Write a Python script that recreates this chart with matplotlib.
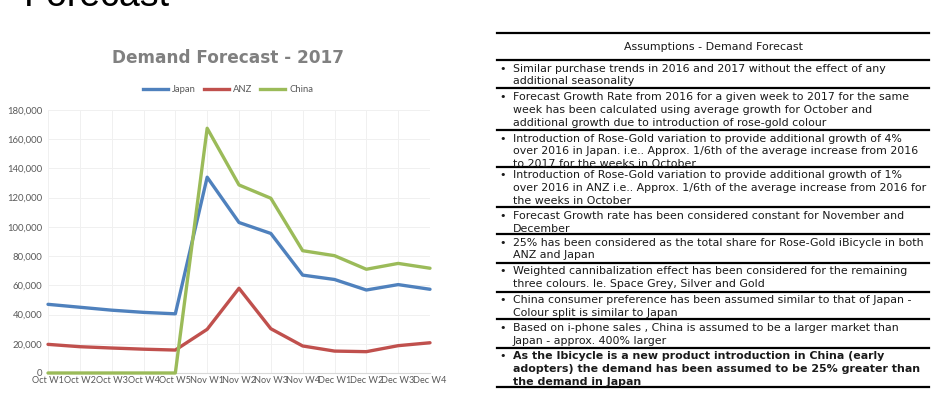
import matplotlib
matplotlib.use("Agg")
import matplotlib.pyplot as plt
from matplotlib.lines import Line2D

W, H = 938, 399

weeks = ["Oct W1", "Oct W2", "Oct W3", "Oct W4", "Oct W5", "Nov W1", "Nov W2",
         "Nov W3", "Nov W4", "Dec W1", "Dec W2", "Dec W3", "Dec W4"]
japan = [47000, 45000, 43000, 41500, 40500, 134000, 103000, 95500, 67000, 64000, 56800, 60500, 57300]
anz = [19600, 18000, 17100, 16300, 15700, 29900, 58000, 30300, 18500, 15000, 14600, 18700, 20700]
china = [0, 0, 0, 0, 0, 167500, 128700, 119600, 83700, 80300, 71000, 75000, 71700]
yticks = list(range(0, 180001, 20000))

series_names = ["Japan", "ANZ", "China"]
colors = ["#4F81BD", "#C0504D", "#9BBB59"]

header = "Assumptions - Demand Forecast"
rows = [
    ["Similar purchase trends in 2016 and 2017 without the effect of any",
     "additional seasonality"],
    ["Forecast Growth Rate from 2016 for a given week to 2017 for the same",
     "week has been calculated using average growth for October and",
     "additional growth due to introduction of rose-gold colour"],
    ["Introduction of Rose-Gold variation to provide additional growth of 4%",
     "over 2016 in Japan. i.e.. Approx. 1/6th of the average increase from 2016",
     "to 2017 for the weeks in October"],
    ["Introduction of Rose-Gold variation to provide additional growth of 1%",
     "over 2016 in ANZ i.e.. Approx. 1/6th of the average increase from 2016 for",
     "the weeks in October"],
    ["Forecast Growth rate has been considered constant for November and",
     "December"],
    ["25% has been considered as the total share for Rose-Gold iBicycle in both",
     "ANZ and Japan"],
    ["Weighted cannibalization effect has been considered for the remaining",
     "three colours. Ie. Space Grey, Silver and Gold"],
    ["China consumer preference has been assumed similar to that of Japan -",
     "Colour split is similar to Japan"],
    ["Based on i-phone sales , China is assumed to be a larger market than",
     "Japan - approx. 400% larger"],
    ["As the Ibicycle is a new product introduction in China (early",
     "adopters) the demand has been assumed to be 25% greater than",
     "the demand in Japan"],
]
bold_rows = [9]

fig = plt.figure(figsize=(W / 100, H / 100), dpi=100)
fig.patch.set_facecolor("white")

def fx(x):
    return x / W

def fy(y):
    return 1 - y / H

# Cut-off page title at the very top
fig.text(fx(24), fy(6), "Forecast", fontsize=27, family="Liberation Sans",
         color="black", va="baseline", ha="left")

# Chart
ax = fig.add_axes([fx(48), fy(373), fx(430) - fx(48), fy(110) - fy(373)])
xs = list(range(len(weeks)))
for name, vals, c in zip(series_names, [japan, anz, china], colors):
    ax.plot(xs, vals, color=c, lw=2.4, solid_joinstyle="round",
            solid_capstyle="round", label=name, zorder=3, clip_on=False)
ax.set_xlim(0, len(weeks) - 1)
ax.set_ylim(0, 180000)
ax.set_yticks(yticks)
ax.set_yticklabels([f"{v:,}" for v in yticks])
ax.set_xticks(xs)
ax.set_xticklabels(weeks)
for s in ["top", "right", "left"]:
    ax.spines[s].set_visible(False)
ax.spines["bottom"].set_color("#d9d9d9")
ax.spines["bottom"].set_linewidth(0.8)
ax.grid(True, color="#f0f0f0", lw=0.7, zorder=0)
ax.tick_params(length=0, colors="#595959")
ax.tick_params(axis="y", labelsize=6.8, pad=4)
ax.tick_params(axis="x", labelsize=6.6, pad=2)
for lab in ax.get_xticklabels() + ax.get_yticklabels():
    lab.set_family("Lato")

fig.text(fx(228), fy(58), "Demand Forecast - 2017", fontsize=12.2,
         fontweight="bold", color="#808080", ha="center", va="center",
         family="DejaVu Sans")

handles = [Line2D([0], [0], color=c, lw=2.4) for c in colors]
fig.legend(handles, series_names, loc="center", bbox_to_anchor=(fx(228), fy(90)),
           ncol=3, frameon=False, prop={"family": "Lato", "size": 6.8},
           handlelength=2.7, handletextpad=0.4, columnspacing=0.8,
           labelcolor="#595959")

# Assumptions table
x0, x1 = 497, 929
lines_y = [33.3, 60, 88.3, 130, 166.7, 207.3, 234, 262.7, 291.7, 319.3, 347.7, 387.3]
for y in lines_y:
    fig.add_artist(Line2D([fx(x0), fx(x1)], [fy(y), fy(y)], color="black", lw=1.6))

fs = 7.9
fig.text(fx(713), fy(47), header, fontsize=fs, family="DejaVu Sans",
         ha="center", va="center", color="#1a1a1a")

line_h = 13.0
for i, row in enumerate(rows):
    top = lines_y[i + 1]
    first_c = top + 8.5
    weight = "bold" if i in bold_rows else "normal"
    fig.text(fx(499), fy(first_c), "•", fontsize=fs, family="DejaVu Sans",
             ha="left", va="center", color="#1a1a1a")
    for j, t in enumerate(row):
        fig.text(fx(513), fy(first_c + j * line_h), t, fontsize=fs,
                 family="DejaVu Sans", fontweight=weight, ha="left",
                 va="center", color="#1a1a1a")

fig.savefig("out.png", dpi=100, facecolor="white")
